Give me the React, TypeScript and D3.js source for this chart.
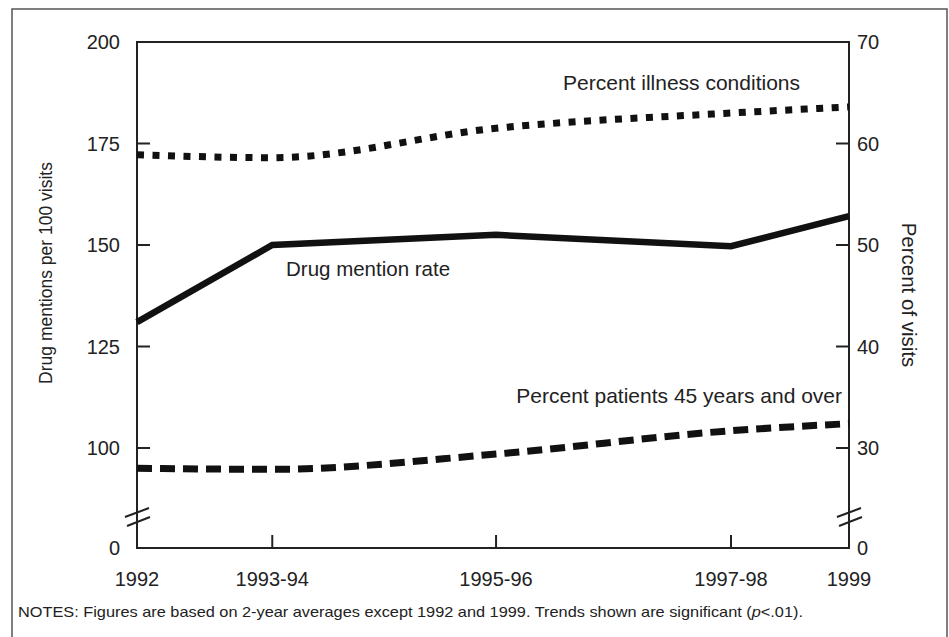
import * as d3 from "d3";

// x positions of the periods (2-year averages sit between their years)
const periods = ["1992", "1993-94", "1995-96", "1997-98", "1999"];
const periodX = [1992, 1993.33, 1995.53, 1997.84, 1999];

// drug mentions per 100 visits (left axis)
const drugRate = [131.0, 150.0, 152.5, 149.7, 157.1];
// percent of visits (right axis)
const illnessPct = [58.9, 58.6, 61.5, 63.0, 63.6];
const patients45Pct = [28.0, 27.9, 29.4, 31.7, 32.4];

const leftTicks = [100, 125, 150, 175, 200];
const rightTicks = [30, 40, 50, 60, 70];

const W = 949;
const H = 637;
const font = "'Liberation Sans', Arial, Helvetica, sans-serif";
const ink = "#222";

const App = () => {
  const left = 137;
  const right = 849;
  const top = 42;
  const bottom = 548;

  const x = d3.scaleLinear().domain([1992, 1999]).range([left, right]);
  // axes are broken below 100 / 30; the zero sits at the bottom edge
  const yL = d3.scaleLinear().domain([100, 200]).range([448, top]);
  const yR = d3.scaleLinear().domain([30, 70]).range([448, top]);

  const straight = d3
    .line<number>()
    .x((_, i) => x(periodX[i]))
    .y((d) => yL(d))
    .curve(d3.curveLinear);

  const smoothR = d3
    .line<number>()
    .x((_, i) => x(periodX[i]))
    .y((d) => yR(d))
    .curve(d3.curveMonotoneX);

  const tickLen = 13;
  const breakY = bottom - 35;

  const breakMark = (ax: number, key: string) => (
    <g key={key} stroke={ink} strokeWidth={2}>
      <line x1={ax - 12} y1={breakY + 4} x2={ax + 12} y2={breakY - 5} />
      <line x1={ax - 10} y1={breakY + 13} x2={ax + 13} y2={breakY + 4} />
    </g>
  );

  return (
    <svg
      width={W}
      height={H}
      style={{ position: "absolute", left: 0, top: 0, background: "#fff" }}
      fontFamily={font}
    >
      {/* outer frame */}
      <rect x={12} y={9} width={935} height={H + 20} fill="none" stroke="#555" strokeWidth={1.5} />

      {/* plot frame */}
      <rect x={left} y={top} width={right - left} height={bottom - top} fill="none" stroke={ink} strokeWidth={2} />

      {/* left ticks */}
      {leftTicks.map((t) => (
        <g key={"l" + t}>
          {t !== 200 && (
            <line x1={left} x2={left + tickLen} y1={yL(t)} y2={yL(t)} stroke={ink} strokeWidth={2} />
          )}
          <text x={left - 17} y={yL(t)} dy="0.36em" textAnchor="end" fontSize={20} fill={ink}>
            {t}
          </text>
        </g>
      ))}
      <text x={left - 17} y={bottom} dy="0.36em" textAnchor="end" fontSize={20} fill={ink}>
        0
      </text>

      {/* right ticks */}
      {rightTicks.map((t) => (
        <g key={"r" + t}>
          {t !== 70 && (
            <line x1={right - tickLen} x2={right} y1={yR(t)} y2={yR(t)} stroke={ink} strokeWidth={2} />
          )}
          <text x={right + 8} y={yR(t)} dy="0.36em" textAnchor="start" fontSize={20} fill={ink}>
            {t}
          </text>
        </g>
      ))}
      <text x={right + 8} y={bottom} dy="0.36em" textAnchor="start" fontSize={20} fill={ink}>
        0
      </text>

      {/* bottom ticks */}
      {periods.map((p, i) => (
        <g key={p}>
          {i > 0 && i < periods.length - 1 && (
            <line x1={x(periodX[i])} x2={x(periodX[i])} y1={bottom} y2={bottom - tickLen} stroke={ink} strokeWidth={2} />
          )}
          <text x={x(periodX[i])} y={586} textAnchor="middle" fontSize={20} fill={ink}>
            {p}
          </text>
        </g>
      ))}

      {breakMark(left, "bl")}
      {breakMark(right, "br")}

      {/* series */}
      <path d={smoothR(illnessPct) || ""} fill="none" stroke="#111" strokeWidth={7} strokeDasharray="7 8.5" />
      <path d={straight(drugRate) || ""} fill="none" stroke="#111" strokeWidth={6.5} strokeLinejoin="miter" />
      <path d={smoothR(patients45Pct) || ""} fill="none" stroke="#111" strokeWidth={7} strokeDasharray="15 8" />

      {/* series labels */}
      <text x={800} y={90} textAnchor="end" fontSize={21} fill={ink}>
        Percent illness conditions
      </text>
      <text x={286} y={276} fontSize={20.5} fill={ink}>
        Drug mention rate
      </text>
      <text x={842} y={403} textAnchor="end" fontSize={21} fill={ink}>
        Percent patients 45 years and over
      </text>

      {/* axis titles */}
      <text transform="translate(52,273) rotate(-90)" textAnchor="middle" fontSize={17.5} fill={ink}>
        Drug mentions per 100 visits
      </text>
      <text transform="translate(902,295) rotate(90)" textAnchor="middle" fontSize={20.5} fill={ink}>
        Percent of visits
      </text>

      {/* notes */}
      <text x={18} y={617} fontSize={14.5} fill={ink} textLength={785} lengthAdjust="spacingAndGlyphs">
        NOTES: Figures are based on 2-year averages except 1992 and 1999. Trends shown are significant (
        <tspan fontStyle="italic">p</tspan>
        {"<.01)."}
      </text>
    </svg>
  );
};

export default App;
